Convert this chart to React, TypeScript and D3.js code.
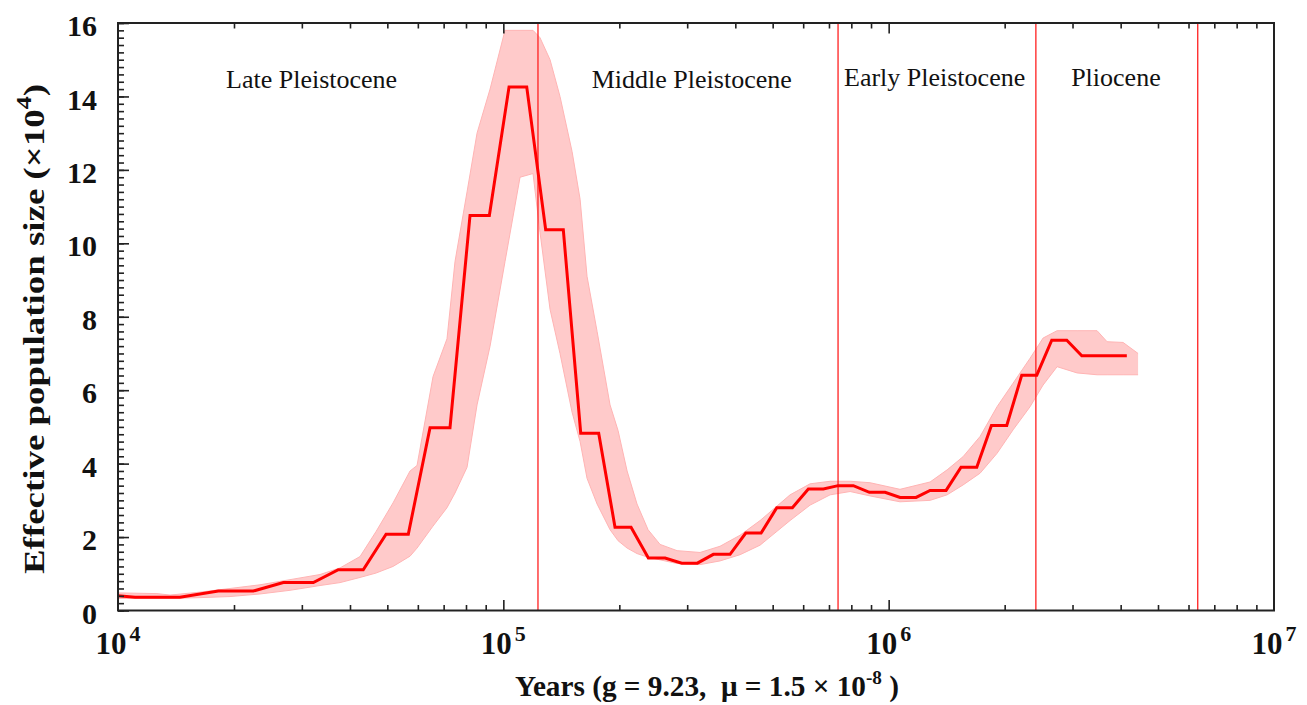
import { useEffect, useRef } from "react"
import { select, scaleLog, scaleLinear, line, area, axisBottom, axisTop, axisLeft, range } from "d3"

const WIDTH = 1307
const HEIGHT = 705
const margin = { top: 23, right: 33, bottom: 94.5, left: 118 }

// main PSMC estimate (vertices)
const years = [
  10000, 11070, 14480, 18210, 22450, 26850, 32130, 37300, 43300, 49620, 56680,
  64530, 72710, 81950, 91990, 103470, 115000, 128800, 143100, 158800, 176800,
  194900, 214500, 237900, 262900, 290400, 318800, 350800, 387600, 425700, 466600,
  512400, 562500, 618800, 676900, 739200, 809700, 891200, 978800, 1070500, 1178000,
  1280700, 1409300, 1541000, 1693000, 1848000, 2025000, 2215000, 2423000, 2650000,
  2899000, 3171000, 4150000,
]
const ne = [
  0.4, 0.36, 0.36, 0.53, 0.53, 0.76, 0.76, 1.11, 1.11, 2.08, 2.08,
  4.98, 4.98, 10.76, 10.76, 14.26, 14.26, 10.37, 10.37, 4.83, 4.83,
  2.27, 2.27, 1.43, 1.43, 1.29, 1.29, 1.53, 1.53, 2.11, 2.11,
  2.8, 2.8, 3.31, 3.31, 3.4, 3.4, 3.22, 3.22, 3.08, 3.08,
  3.27, 3.27, 3.9, 3.9, 5.04, 5.04, 6.41, 6.41, 7.36,
  7.36, 6.94, 6.94,
]

// bootstrap spread (upper / lower edge of the pink band)
const bandYears = [
  10000, 12620, 13650, 16320, 19530, 23360, 27950, 33440, 37690, 42480, 46730,
  51730, 57270, 59710, 65700, 71420, 74910, 80500, 85460, 92370, 101000, 110500,
  119400, 124500, 132200, 140300, 150800, 158200, 164900, 175100, 189200, 198500,
  209500, 222300, 237500, 255100, 282400, 324000, 365100, 411500, 463800, 554800,
  625300, 704700, 794200, 894900, 1070000, 1281000, 1418000, 1560000, 1727000,
  1911000, 2103000, 2328000, 2516000, 2736000, 3083000, 3474000, 3688000, 4058000,
  4439000,
]
const bandUpper = [
  0.48, 0.46, 0.42, 0.5, 0.6, 0.7, 0.84, 0.98, 1.16, 1.47, 2.15,
  2.93, 3.8, 3.95, 6.37, 7.4, 9.5, 11.4, 13.0, 14.2, 15.8, 15.8,
  15.8, 15.6, 15.0, 14.0, 12.5, 11.2, 9.1, 7.6, 5.6, 4.9,
  3.8, 2.9, 2.2, 1.8, 1.63, 1.58, 1.75, 2.05, 2.45, 3.15,
  3.45, 3.52, 3.52, 3.48, 3.3, 3.5, 3.83, 4.19, 4.74,
  5.55, 6.19, 6.87, 7.42, 7.62, 7.62, 7.62, 7.32, 7.3,
  7.0,
]
const bandLower = [
  0.33, 0.33, 0.33, 0.35, 0.38, 0.45, 0.55, 0.68, 0.76, 0.9, 1.02,
  1.2, 1.48, 1.7, 2.3, 2.8, 3.2, 3.9, 5.6, 7.2, 9.5, 11.8,
  11.9, 10.3, 8.2, 7.0, 5.4, 4.6, 3.6, 2.9, 2.2, 1.9,
  1.7, 1.55, 1.45, 1.38, 1.28, 1.25, 1.35, 1.52, 1.78, 2.45,
  2.87, 3.15, 3.24, 3.12, 2.96, 3.0, 3.15, 3.42, 3.74,
  4.28, 4.92, 5.55, 6.14, 6.64, 6.47, 6.42, 6.42, 6.42,
  6.42,
]

// epoch boundaries and labels
const boundaryYears = [123000, 739000, 2410000, 6340000]
const periodNames = ["Late Pleistocene", "Middle Pleistocene", "Early Pleistocene", "Pliocene"]
const periodCenters = [31800, 308300, 1316000, 3888000]

const yMajor = range(0, 17, 2)
const yMinor = range(0, 16.01, 0.2)
const xDecades = [4, 5, 6, 7]

const SERIF = "'Liberation Serif', 'Times New Roman', Times, serif"

const App = () => {
  const svgRef = useRef<SVGSVGElement>(null)

  useEffect(() => {
    document.body.style.margin = "0"
    const width = WIDTH - margin.left - margin.right
    const height = HEIGHT - margin.top - margin.bottom

    const x = scaleLog().domain([1e4, 1e7]).range([0, width])
    const y = scaleLinear().domain([0, 16]).range([height, 0])

    const svgEl = select(svgRef.current)
    svgEl.selectAll("*").remove()

    svgEl.append("defs").append("clipPath").attr("id", "plotClip")
      .append("rect").attr("width", width).attr("height", height)

    const svg = svgEl.append("g")
      .attr("transform", `translate(${margin.left}, ${margin.top})`)

    const plot = svg.append("g").attr("clip-path", "url(#plotClip)")

    // bootstrap band
    const band = bandYears.map((t, i) => ({ t, hi: bandUpper[i], lo: bandLower[i] }))
    plot.append("path")
      .datum(band)
      .attr("fill", "#ffcaca")
      .attr("stroke", "none")
      .attr("d", area<any>().x((d) => x(d.t)).y0((d) => y(d.lo)).y1((d) => y(d.hi)))
    plot.append("path").datum(band)
      .attr("fill", "none").attr("stroke", "#ffb4b4").attr("stroke-width", 1)
      .attr("d", line<any>().x((d) => x(d.t)).y((d) => y(d.hi)))
    plot.append("path").datum(band)
      .attr("fill", "none").attr("stroke", "#ffb4b4").attr("stroke-width", 1)
      .attr("d", line<any>().x((d) => x(d.t)).y((d) => y(d.lo)))

    // epoch boundaries
    plot.selectAll(".boundary")
      .data(boundaryYears)
      .enter()
      .append("line")
      .attr("x1", (d) => x(d)).attr("x2", (d) => x(d))
      .attr("y1", 0).attr("y2", height)
      .attr("stroke", "#ff2020")
      .attr("stroke-width", 1.3)

    // main curve
    const pts = years.map((t, i) => [t, ne[i]] as [number, number])
    plot.append("path")
      .datum(pts)
      .attr("fill", "none")
      .attr("stroke", "#ff0000")
      .attr("stroke-width", 3)
      .attr("stroke-linejoin", "miter")
      .attr("d", line<[number, number]>().x((d) => x(d[0])).y((d) => y(d[1])))

    // period labels
    svg.selectAll(".period")
      .data(periodNames)
      .enter()
      .append("text")
      .attr("x", (d, i) => x(periodCenters[i]))
      .attr("y", (d, i) => (i < 2 ? 65 : 63))
      .attr("text-anchor", "middle")
      .attr("font-family", SERIF)
      .attr("font-size", 26)
      .attr("fill", "#111")
      .text((d) => d)

    // x ticks (bottom and top, inward)
    const minorX: number[] = []
    for (let k = 4; k < 7; k++) for (let m = 2; m <= 9; m++) minorX.push(m * 10 ** k)
    const majorX = [1e5, 1e6]
    const styleAxis = (g: any) => {
      g.select(".domain").remove()
      g.selectAll("line").attr("stroke", "#222").attr("stroke-width", 1.6)
    }
    svg.append("g").attr("transform", `translate(0, ${height})`)
      .call(axisBottom(x).tickValues(minorX).tickSize(-5.5).tickFormat(() => ""))
      .call(styleAxis)
    svg.append("g").attr("transform", `translate(0, ${height})`)
      .call(axisBottom(x).tickValues(majorX).tickSize(-10.5).tickFormat(() => ""))
      .call(styleAxis)
    svg.append("g")
      .call(axisTop(x).tickValues(minorX).tickSize(-5.5).tickFormat(() => ""))
      .call(styleAxis)
    svg.append("g")
      .call(axisTop(x).tickValues(majorX).tickSize(-10.5).tickFormat(() => ""))
      .call(styleAxis)

    // y ticks (left, inward)
    svg.append("g")
      .call(axisLeft(y).tickValues(yMinor).tickSize(-6).tickFormat(() => ""))
      .call(styleAxis)
    const yAxisGroup = svg.append("g")
      .call(axisLeft(y).tickValues(yMajor).tickSize(-11).tickPadding(21).tickFormat((v: any) => `${v}`))
    styleAxis(yAxisGroup)
    yAxisGroup.selectAll("text")
      .attr("dy", "0.42em")
      .attr("font-family", SERIF)
      .attr("font-weight", "bold")
      .attr("font-size", 30)
      .attr("fill", "#111")

    // frame
    svg.append("rect")
      .attr("width", width).attr("height", height)
      .attr("fill", "none").attr("stroke", "#222").attr("stroke-width", 2)

    // x tick labels 10^k
    const xl = svg.selectAll(".xlab")
      .data(xDecades)
      .enter()
      .append("text")
      .attr("x", (d) => x(10 ** d))
      .attr("y", height + 43)
      .attr("text-anchor", "middle")
      .attr("font-family", SERIF)
      .attr("font-weight", "bold")
      .attr("font-size", 31)
      .attr("fill", "#111")
    xl.append("tspan").text("10")
    xl.append("tspan").attr("dx", 3).attr("dy", -13).attr("font-size", 22).text((d) => `${d}`)

    // x title
    const xt = svg.append("text")
      .attr("x", 589)
      .attr("y", height + 85)
      .attr("text-anchor", "middle")
      .attr("font-family", SERIF)
      .attr("font-weight", "bold")
      .attr("font-size", 29)
      .attr("fill", "#111")
      .attr("textLength", 384)
      .attr("lengthAdjust", "spacingAndGlyphs")
      .style("white-space", "pre")
    xt.append("tspan").text("Years (g = 9.23,  \u03bc = 1.5 \u00d7 10")
    xt.append("tspan").attr("dy", -12).attr("font-size", 19).text("-8")
    xt.append("tspan").attr("dy", 12).text(" )")

    // y title
    const yt = svg.append("text")
      .attr("transform", `translate(${44 - margin.left}, ${329 - margin.top}) rotate(-90)`)
      .attr("text-anchor", "middle")
      .attr("font-family", SERIF)
      .attr("font-weight", "bold")
      .attr("font-size", 30)
      .attr("fill", "#111")
      .attr("textLength", 490)
      .attr("lengthAdjust", "spacingAndGlyphs")
    yt.append("tspan").text("Effective population size (\u00d710")
    yt.append("tspan").attr("dy", -13).attr("font-size", 21).text("4")
    yt.append("tspan").attr("dy", 13).text(")")
  }, [])

  return (
    <svg
      ref={svgRef}
      width={WIDTH}
      height={HEIGHT}
      viewBox={`0 0 ${WIDTH} ${HEIGHT}`}
      style={{ display: "block", background: "#fff" }}
    ></svg>
  )
}

export default App
